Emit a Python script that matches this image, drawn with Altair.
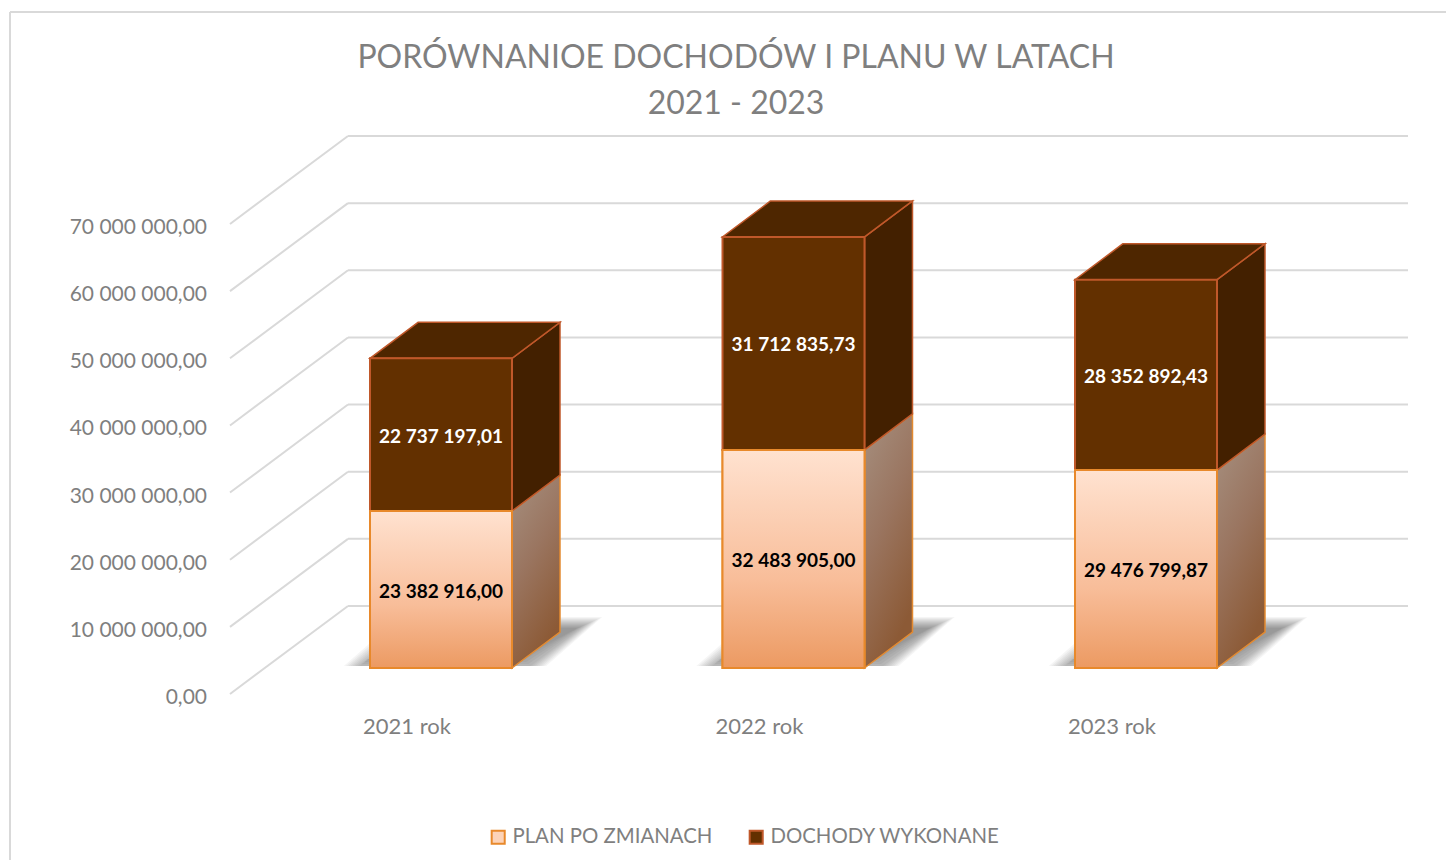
import altair as alt
import pandas as pd

# ---------------- data ----------------
categories = ["2021 rok", "2022 rok", "2023 rok"]
series_names = ["PLAN PO ZMIANACH", "DOCHODY WYKONANE"]
plan = [23382916.00, 32483905.00, 29476799.87]
dochody = [22737197.01, 31712835.73, 28352892.43]
y_ticks = [0, 10e6, 20e6, 30e6, 40e6, 50e6, 60e6, 70e6]
title_lines = ["PORÓWNANIOE DOCHODÓW I PLANU W LATACH", "2021 - 2023"]

# ---------------- layout constants (pixels) ----------------
W, H = 1436, 848          # view size (view origin at page 10,12)
PX = 352.5                # px per category unit
X0 = 397                  # view x of category 0 on front plane
PY = 470 / 70e6           # px per value unit
Y0 = 682                  # view y of value 0 on front plane


def dxu(p):
    return p / PX


def dyu(p):
    return p / PY


xdom = [-X0 / PX, (W - X0) / PX]
ydom = [(Y0 - H) / PY, Y0 / PY]
xs = alt.Scale(domain=xdom, nice=False, zero=False)
ys = alt.Scale(domain=ydom, nice=False, zero=False)

FRONT_DX, FRONT_DY = 34, 26     # bar front face depth shift
HALF_W = 71                     # half width of bar front
DEPTH_DX, DEPTH_DY = 48, 36     # bar depth
WALL_DX, WALL_DY = 118, 88      # back wall depth
WALL_LEFT = (230 - 10 - X0) / PX
WALL_RIGHT = (1408 - 10 - X0) / PX

FONT = "Lato"
GRAY = "#7f7f7f"
GRID = "#d9d9d9"

# ---------------- derived tables ----------------
front_rows, side_rows, top_rows, shadow_rows = [], [], [], []
B = dyu(FRONT_DY)
for i, cat in enumerate(categories):
    xc = i + dxu(FRONT_DX)
    xl, xr = xc - dxu(HALF_W), xc + dxu(HALF_W)
    segs = [(series_names[0], 0.0, plan[i]), (series_names[1], plan[i], plan[i] + dochody[i])]
    for s, lo, hi in segs:
        front_rows.append(dict(cat=cat, series=s, x=xl, x2=xr, y=B + lo, y2=B + hi, val=hi - lo,
                               ym=B + (lo + hi) / 2, xc=xc))
        fid = f"{cat}-{s}"
        side_rows.append(dict(face=fid, series=s, x=xr, y=B + lo, y2=B + hi))
        side_rows.append(dict(face=fid, series=s, x=xr + dxu(DEPTH_DX),
                              y=B + lo + dyu(DEPTH_DY), y2=B + hi + dyu(DEPTH_DY)))
    tot = plan[i] + dochody[i]
    top_rows.append(dict(face=cat, y=B + tot, x=xl, x2=xr))
    top_rows.append(dict(face=cat, y=B + tot + dyu(DEPTH_DY), x=xl + dxu(DEPTH_DX), x2=xr + dxu(DEPTH_DX)))
    # soft floor shadow: several expanding translucent footprints
    for k in range(12):
        e = 2.2 * k
        fid = f"{cat}-{k}"
        f_y = B + dyu(10) - dyu(min(e, 9) * 0.9)
        b_y = B + dyu(DEPTH_DY + 4 + e * 0.45)
        shadow_rows.append(dict(face=fid, y=f_y, x=xl - dxu(2 + e), x2=xr + dxu(10 + e)))
        shadow_rows.append(dict(face=fid, y=b_y,
                                x=xl - dxu(2 + e) + dxu(DEPTH_DX + 8),
                                x2=xr + dxu(10 + e) + dxu(DEPTH_DX + 8)))

front = pd.DataFrame(front_rows)
side = pd.DataFrame(side_rows)
top = pd.DataFrame(top_rows)
shadow = pd.DataFrame(shadow_rows)
grid = pd.DataFrame(dict(v=y_ticks))
grid["yb"] = grid["v"] + dyu(WALL_DY)
grid["xl"] = WALL_LEFT
grid["xb"] = WALL_LEFT + dxu(WALL_DX)
grid["xr"] = WALL_RIGHT
cats = pd.DataFrame(dict(cat=categories, i=list(range(len(categories)))))

# ---------------- layers ----------------
border_left = alt.Chart(pd.DataFrame(dict(a=[0]))).mark_rule(color=GRID, strokeWidth=2).encode(
    x=alt.value(0), y=alt.value(0), y2=alt.value(H))
border_top = alt.Chart(pd.DataFrame(dict(a=[0]))).mark_rule(color=GRID, strokeWidth=2).encode(
    x=alt.value(0), x2=alt.value(W), y=alt.value(0))

diag = alt.Chart(grid).mark_rule(color=GRID, strokeWidth=2).encode(
    x=alt.X("xl:Q", scale=xs, axis=None), x2="xb:Q",
    y=alt.Y("v:Q", scale=ys, axis=None), y2="yb:Q",
)
back_grid = alt.Chart(grid).mark_rule(color=GRID, strokeWidth=2).encode(
    x=alt.X("xb:Q", scale=xs, axis=None), x2="xr:Q",
    y=alt.Y("yb:Q", scale=ys, axis=None),
)
axis_labels = alt.Chart(grid).mark_text(font=FONT, fontSize=21, color=GRAY, align="right",
                                        baseline="middle", dy=4).encode(
    x=alt.value(207 - 10), y=alt.Y("v:Q", scale=ys, axis=None),
    text=alt.Text("v:Q", format=",.2f"),
)

shadow_layer = alt.Chart(shadow).mark_area(orient="horizontal", color="#000000", opacity=0.04).encode(
    y=alt.Y("y:Q", scale=ys, axis=None), x=alt.X("x:Q", scale=xs, axis=None), x2="x2:Q",
    detail="face:N",
)

plan_grad = alt.LinearGradient(
    gradient="linear", x1=0, y1=0, x2=0, y2=1,
    stops=[alt.GradientStop(color="#FFE2D0", offset=0),
           alt.GradientStop(color="#F8BD99", offset=0.6),
           alt.GradientStop(color="#EC9A62", offset=1)])
side_grad = alt.LinearGradient(
    gradient="linear", x1=0, y1=0, x2=0.4, y2=1,
    stops=[alt.GradientStop(color="#A69080", offset=0),
           alt.GradientStop(color="#9A7560", offset=0.5),
           alt.GradientStop(color="#8C5A36", offset=1)])

side_plan = alt.Chart(side).transform_filter(
    alt.datum.series == series_names[0]
).mark_area(color=side_grad, stroke="#E38A30", strokeWidth=1.5).encode(
    x=alt.X("x:Q", scale=xs, axis=None), y=alt.Y("y:Q", scale=ys, axis=None), y2="y2:Q",
    detail="face:N",
)
side_doch = alt.Chart(side).transform_filter(
    alt.datum.series == series_names[1]
).mark_area(color="#432000", stroke="#C0582A", strokeWidth=1.5).encode(
    x=alt.X("x:Q", scale=xs, axis=None), y=alt.Y("y:Q", scale=ys, axis=None), y2="y2:Q",
    detail="face:N",
)
top_doch = alt.Chart(top).mark_area(orient="horizontal", color="#4E2600", stroke="#C0582A",
                                    strokeWidth=1.5).encode(
    y=alt.Y("y:Q", scale=ys, axis=None), x=alt.X("x:Q", scale=xs, axis=None), x2="x2:Q",
    detail="face:N",
)

legend = alt.Legend(title=None, orient="none", legendX=478, legendY=815, direction="horizontal",
                    labelFont=FONT, labelFontSize=20.4, labelColor=GRAY, symbolType="square",
                    symbolSize=170, symbolStrokeWidth=2, columnPadding=32, labelOffset=4,
                    padding=0, symbolOpacity=1, labelLimit=400)
front_base = alt.Chart(front).mark_bar(strokeWidth=2).encode(
    x=alt.X("x:Q", scale=xs, axis=None), x2="x2:Q",
    y=alt.Y("y:Q", scale=ys, axis=None), y2="y2:Q",
    color=alt.Color("series:N", scale=alt.Scale(domain=series_names, range=["#FCD3B8", "#633000"]),
                    legend=legend),
    stroke=alt.Stroke("series:N", scale=alt.Scale(domain=series_names, range=["#E8892B", "#C0582A"]),
                      legend=legend),
)
front_plan = alt.Chart(front).transform_filter(
    alt.datum.series == series_names[0]
).mark_bar(color=plan_grad, stroke="#E8892B", strokeWidth=2).encode(
    x=alt.X("x:Q", scale=xs, axis=None), x2="x2:Q",
    y=alt.Y("y:Q", scale=ys, axis=None), y2="y2:Q",
)

labels = alt.Chart(front).mark_text(font=FONT, fontSize=19, fontWeight="bold", dy=2).encode(
    x=alt.X("xc:Q", scale=xs, axis=None), y=alt.Y("ym:Q", scale=ys, axis=None),
    text=alt.Text("val:Q", format=",.2f"),
    color=alt.condition(alt.datum.series == series_names[0], alt.value("#000000"), alt.value("#ffffff")),
)

cat_labels = alt.Chart(cats).mark_text(font=FONT, fontSize=22, color=GRAY, baseline="middle").encode(
    x=alt.X("i:Q", scale=xs, axis=None), y=alt.value(727 - 12), text="cat:N",
)

title1 = alt.Chart(pd.DataFrame(dict(t=[title_lines[0]]))).mark_text(
    font=FONT, fontSize=32, color=GRAY, baseline="middle").encode(
    x=alt.value(736 - 10), y=alt.value(58 - 12), text="t:N")
title2 = alt.Chart(pd.DataFrame(dict(t=[title_lines[1]]))).mark_text(
    font=FONT, fontSize=32, color=GRAY, baseline="middle").encode(
    x=alt.value(736 - 10), y=alt.value(104 - 12), text="t:N")

chart = alt.layer(
    border_left, border_top, diag, back_grid, axis_labels, shadow_layer,
    side_plan, side_doch, top_doch, front_base, front_plan,
    labels, cat_labels, title1, title2,
).properties(
    width=W, height=H, autosize=alt.AutoSizeParams(type="none"),
    padding={"left": 2, "top": 4, "right": 0, "bottom": 0},
).configure_view(
    strokeWidth=0
).configure(
    locale={"number": {"decimal": ",", "thousands": " ", "grouping": [3], "currency": ["", ""]}}
)

chart.save("out.html", embed_options={"renderer": "svg", "actions": False})
